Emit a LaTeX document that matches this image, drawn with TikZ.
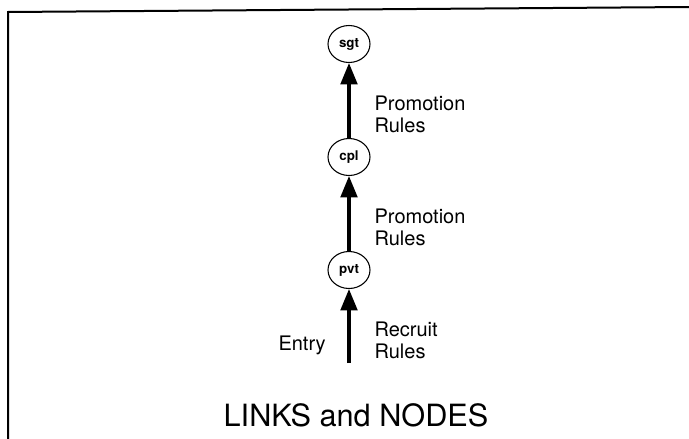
\documentclass[tikz,border=0pt]{standalone}
\usepackage{fontspec}
\setmainfont{TeX Gyre Heros}
\usepackage{tikz}
\usetikzlibrary{arrows.meta,shapes.geometric}

\begin{document}
\begin{tikzpicture}[
    x=0.75pt, y=-0.75pt,
    node distance=84.75pt,
    rank/.style={ellipse, draw, line width=0.8pt, minimum width=31.5pt, minimum height=27.75pt, inner sep=0pt, font=\bfseries\fontsize{10}{12}\selectfont},
    link/.style={-{Triangle[length=16pt,width=12.5pt]}, line width=2.3pt},
    rules/.style={right, align=left, font=\fontsize{15}{16.5}\selectfont, xshift=14.7pt}
]
\useasboundingbox (0,0) rectangle (689,439);
\draw[line width=1.5pt] (8,439) -- (8,12) -- (689,7);

\node [rank] at (349,270) (pvt) {pvt};
\node [rank, above of=pvt] (cpl) {cpl};
\node [rank, above of=cpl] (sgt) {sgt};
\coordinate (entry) at (349,363);

\draw [link] (entry) -- node[rules, pos=0.3] {Recruit\\Rules}
    node[left, pos=0.24, xshift=-13pt, font=\fontsize{15}{16.5}\selectfont] {Entry} (pvt);
\draw [link] (pvt) -- node[rules, pos=0.31] {Promotion\\Rules} (cpl);
\draw [link] (cpl) -- node[rules, pos=0.31] {Promotion\\Rules} (sgt);

\node [font=\fontsize{23}{26}\selectfont] (title) at (356,415) {LINKS and NODES};

\end{tikzpicture}
\end{document}
